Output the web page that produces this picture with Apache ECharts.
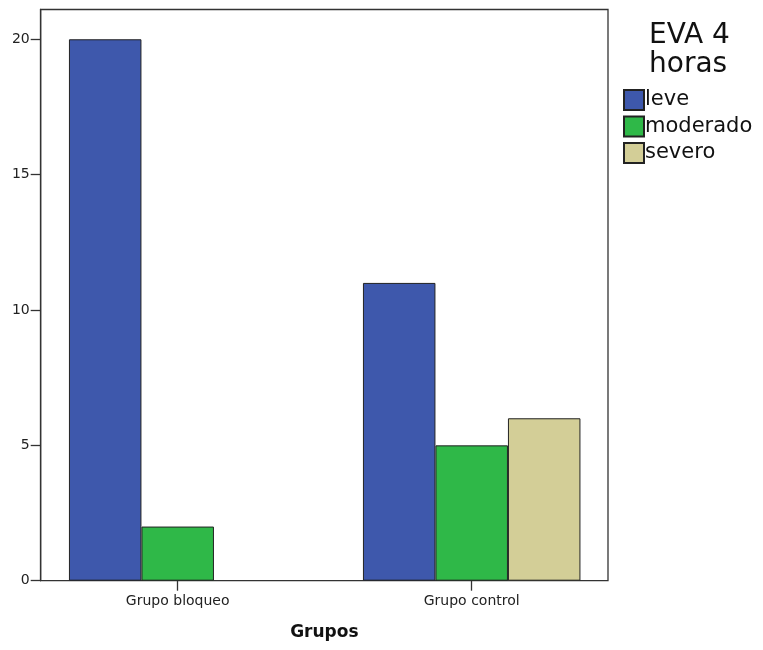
<!DOCTYPE html>
<html>
<head>
<meta charset="utf-8">
<script src="https://cdn.jsdelivr.net/npm/echarts@6/dist/echarts.min.js"></script>
<style>html,body{margin:0;padding:0;background:#fff;}#c{width:763px;height:650px;}</style>
</head>
<body>
<div id="c"></div>
<script>
const categories = ['Grupo bloqueo', 'Grupo control'];
const leve = [20, 11];
const moderado = [2, 5];
const severo = [null, 6];
const seriesNames = ['leve', 'moderado', 'severo'];
const yTicks = [0, 5, 10, 15, 20];

const FONT = 'DejaVu Sans';
const chart = echarts.init(document.getElementById('c'), null, {renderer: 'canvas'});
const colors = ['#3E58AC', '#2FB848', '#D3CE97'];
const data = [leve, moderado, severo];
const yMax = 21.1;

chart.setOption({
  animation: false,
  textStyle: {fontFamily: FONT},
  title: {
    text: 'EVA 4\nhoras',
    left: 649, top: 21, padding: 0,
    textStyle: {fontFamily: FONT, fontSize: 28, fontWeight: 'normal', color: '#111', lineHeight: 29}
  },
  legend: {
    data: seriesNames,
    orient: 'vertical',
    left: 623, top: 88, padding: 0,
    itemWidth: 20, itemHeight: 20, itemGap: 2.5,
    icon: 'rect',
    textStyle: {fontFamily: FONT, fontSize: 21, lineHeight: 22, color: '#111', padding: [2, 0, 0, -4]}
  },
  grid: [
    {left: 40.7, right: 155, top: 9.5, bottom: 69.3, outerBoundsMode: 'none', containLabel: false,
     show: true, borderColor: '#333', borderWidth: 1.3, backgroundColor: 'transparent'},
    {left: 30.7, right: 144.3, top: 9.5, bottom: 69.3, outerBoundsMode: 'none', containLabel: false}
  ],
  xAxis: [
    {type: 'category', gridIndex: 0, data: categories, axisLine: {show: false}, axisTick: {show: false}, axisLabel: {show: false},
     name: 'Grupos', nameLocation: 'middle', nameGap: 43,
     nameTextStyle: {fontFamily: FONT, fontSize: 17, fontWeight: 'bold', color: '#111'}},
    {type: 'category', gridIndex: 1, data: categories,
     axisLine: {show: false},
     axisTick: {show: true, alignWithLabel: true, length: 10, lineStyle: {color: '#333', width: 1.3}},
     axisLabel: {fontFamily: FONT, fontSize: 14, color: '#222', margin: 14}}
  ],
  yAxis: [
    {type: 'value', gridIndex: 0, min: 0, max: yMax, interval: 5,
     axisLine: {show: true, lineStyle: {color: '#333', width: 1.3}},
     axisTick: {show: true, length: 10, customValues: yTicks, lineStyle: {color: '#333', width: 1.3}},
     axisLabel: {fontFamily: FONT, fontSize: 14, color: '#222', margin: 11, customValues: yTicks},
     splitLine: {show: false}},
    {type: 'value', gridIndex: 1, min: 0, max: yMax, show: false, splitLine: {show: false}}
  ],
  series: seriesNames.map((n, i) => ({
    name: n, type: 'bar', xAxisIndex: 1, yAxisIndex: 1,
    data: data[i],
    barWidth: 72.5, barGap: '0%',
    itemStyle: {color: colors[i], borderColor: '#222', borderWidth: 1}
  }))
});
</script>
</body>
</html>
